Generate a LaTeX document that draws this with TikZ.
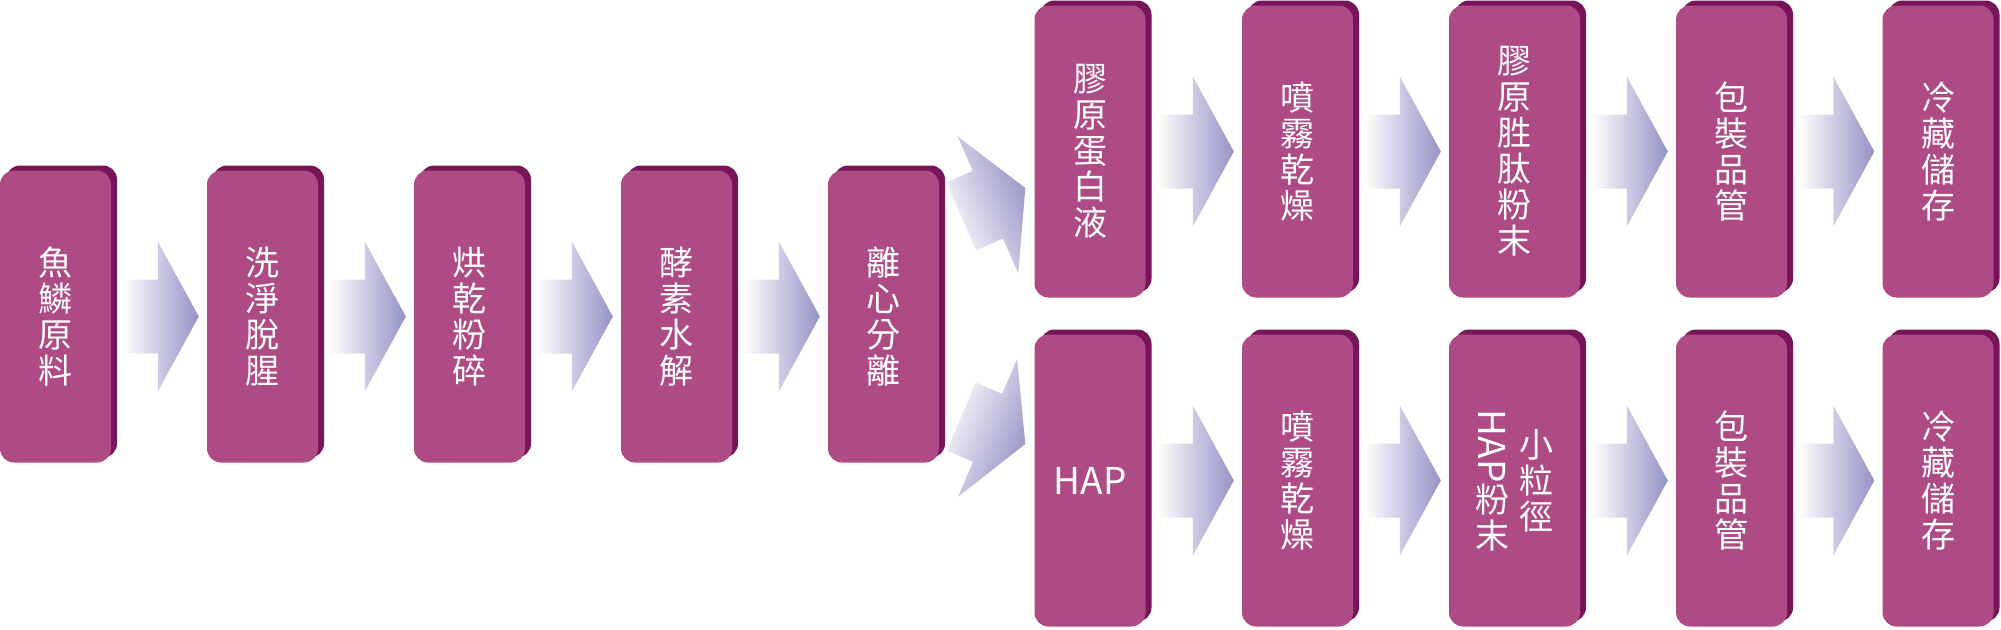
\documentclass[tikz,border=0pt]{standalone}
\usepackage{fontspec}
\usepackage{graphicx}
\newfontfamily\cjk{Noto Sans CJK TC}
\usetikzlibrary{calc,shadows}
\definecolor{boxc}{RGB}{174,74,132}
\definecolor{shc}{RGB}{118,22,88}
\definecolor{arrc}{RGB}{150,146,198}
\newcommand\hapfont{\fontsize{37}{36}\selectfont}
% block arrow from tail point #1 to tip point #2, shading angle #3
\newcommand\barrow[3]{%
  \path[left color=white, right color=arrc, shading angle=#3]
    let \p1=#1, \p2=#2, \p3=($(\p2)-(\p1)$), \n1={atan2(\y3,\x3)}, \n2={veclen(\x3,\y3)} in
    {[shift={(\p1)}, rotate=\n1]
     (0,-37) -- ({\n2-41},-37) -- ({\n2-41},-75) -- ({\n2},0) -- ({\n2-41},75) -- ({\n2-41},37) -- (0,37) -- cycle};}
\begin{document}
\begin{tikzpicture}[x=1pt, y=-1pt,
  box/.style={fill=boxc, rounded corners=14pt, minimum width=111pt, minimum height=292pt,
    inner sep=0pt, text=white, align=center, font=\cjk\fontsize{34}{36}\selectfont,
    general shadow={fill=shc, shadow xshift=6pt, shadow yshift=5pt}},
  lbl/.style={text=white, align=center, inner sep=0pt, font=\cjk\fontsize{34}{36}\selectfont}]
\useasboundingbox (0,0) rectangle (2001,629);
% main row
\node[box] (m1) at (55.5,316.5) {魚\\鱗\\原\\料};
\node[box] (m2) at (262.5,316.5) {洗\\淨\\脫\\腥};
\node[box] (m3) at (469.5,316.5) {烘\\乾\\粉\\碎};
\node[box] (m4) at (676.5,316.5) {酵\\素\\水\\解};
\node[box] (m5) at (883.5,316.5) {離\\心\\分\\離};
% upper row
\node[box] (u1) at (1090,151.5) {膠\\原\\蛋\\白\\液};
\node[box] (u2) at (1297.5,151.5) {噴\\霧\\乾\\燥};
\node[box, minimum width=131pt] (u3) at (1514.5,151.5) {膠\\原\\胜\\肽\\粉\\末};
\node[box] (u4) at (1731.5,151.5) {包\\裝\\品\\管};
\node[box] (u5) at (1938,151.5) {冷\\藏\\儲\\存};
% lower row
\node[box] (l1) at (1090,480.5) {\hapfont HAP};
\node[box] (l2) at (1297.5,480.5) {噴\\霧\\乾\\燥};
\node[box, minimum width=131pt] (l3) at (1514.5,480.5) {};
\node[lbl] (l3a) at ($(l3.center)+(22,0)$) {小\\粒\\徑};
\node[lbl] (l3b) at ($(l3.center)+(-22,0)$) {\rotatebox{-90}{\hapfont HAP}\\粉\\末};
\node[box] (l4) at (1731.5,480.5) {包\\裝\\品\\管};
\node[box] (l5) at (1938,480.5) {冷\\藏\\儲\\存};
% arrows main row
\barrow{($(m1.east)+(11,0)$)}{($(m2.west)+(-8,0)$)}{90}
\barrow{($(m2.east)+(11,0)$)}{($(m3.west)+(-8,0)$)}{90}
\barrow{($(m3.east)+(11,0)$)}{($(m4.west)+(-8,0)$)}{90}
\barrow{($(m4.east)+(11,0)$)}{($(m5.west)+(-8,0)$)}{90}
% diagonal arrows
\barrow{($(m5.east)+(22,-100)$)}{($(u1.west)+(-9,36.5)$)}{113}
\barrow{($(m5.east)+(22,100)$)}{($(l1.west)+(-9,-36.5)$)}{67}
% upper row arrows
\barrow{($(u1.east)+(11,0)$)}{($(u2.west)+(-8,0)$)}{90}
\barrow{($(u2.east)+(11,0)$)}{($(u3.west)+(-8,0)$)}{90}
\barrow{($(u3.east)+(11,0)$)}{($(u4.west)+(-8,0)$)}{90}
\barrow{($(u4.east)+(11,0)$)}{($(u5.west)+(-8,0)$)}{90}
% lower row arrows
\barrow{($(l1.east)+(11,0)$)}{($(l2.west)+(-8,0)$)}{90}
\barrow{($(l2.east)+(11,0)$)}{($(l3.west)+(-8,0)$)}{90}
\barrow{($(l3.east)+(11,0)$)}{($(l4.west)+(-8,0)$)}{90}
\barrow{($(l4.east)+(11,0)$)}{($(l5.west)+(-8,0)$)}{90}
\end{tikzpicture}
\end{document}
